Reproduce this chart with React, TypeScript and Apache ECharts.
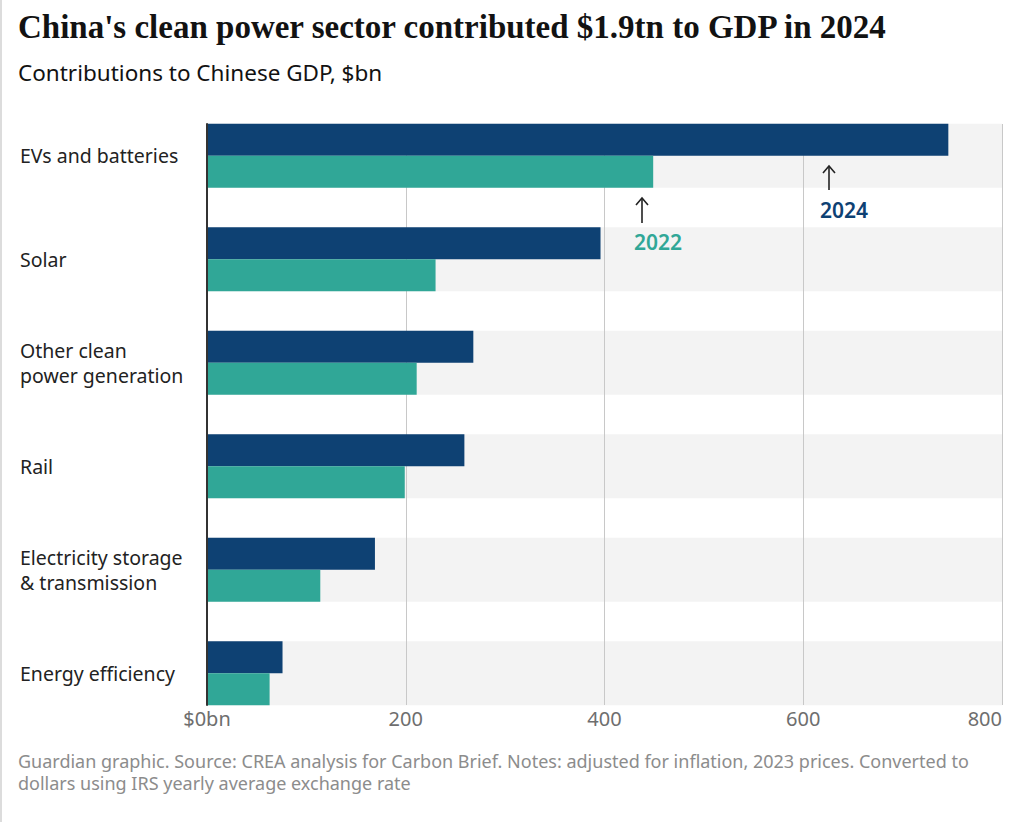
import React, { useEffect, useRef } from "react";
import * as echarts from "echarts";

const categories = [
  "EVs and batteries",
  "Solar",
  "Other clean\npower generation",
  "Rail",
  "Electricity storage\n& transmission",
  "Energy efficiency",
];
const values2024 = [746, 396, 268, 259, 169, 76];
const values2022 = [449, 230, 211, 199, 114, 63];
const xTicks = [0, 200, 400, 600, 800];
const xMax = 800;

const NAVY = "#0e4173";
const TEAL = "#30a797";
const SANS = "'Noto Sans', 'Open Sans', sans-serif";
const SERIF = "'Liberation Serif', 'DejaVu Serif', serif";

export default function App() {
  const ref = useRef<HTMLDivElement>(null);
  useEffect(() => {
    if (!ref.current) return;
    const chart = echarts.init(ref.current, undefined, { renderer: "svg" });
    const option: any = {
      animation: false,
      backgroundColor: "#ffffff",
      grid: [
        { left: 207, right: 22, top: 124, bottom: 117 },
        { left: 207, right: 22, top: 104, bottom: 97 },
      ],
      xAxis: [
        {
          gridIndex: 0,
          type: "value",
          min: 0,
          max: xMax,
          interval: xTicks[1] - xTicks[0],
          z: 1,
          axisLine: { show: false },
          axisTick: { show: false },
          splitLine: { show: true, lineStyle: { color: "#c8c8c8", width: 1 } },
          axisLabel: {
            color: "#6e6e6e",
            fontSize: 20,
            fontFamily: SANS,
            margin: 3,
            alignMaxLabel: "right",
            formatter: (v: number) => (v === 0 ? "$0bn" : String(v)),
          },
        },
        {
          gridIndex: 1,
          type: "value",
          min: 0,
          max: xMax,
          show: false,
        },
      ],
      yAxis: [
        {
          gridIndex: 0,
          type: "value",
          min: 0,
          max: 1,
          z: 3,
          axisLine: { show: true, lineStyle: { color: "#333333", width: 2 } },
          axisTick: { show: false },
          axisLabel: { show: false },
          splitLine: { show: false },
        },
        {
          gridIndex: 1,
          type: "category",
          data: categories,
          inverse: true,
          axisLine: { show: false },
          axisTick: { show: false },
          splitLine: { show: false },
          axisLabel: {
            align: "left",
            margin: 187,
            color: "#222222",
            fontSize: 19.5,
            lineHeight: 25,
            fontFamily: SANS,
          },
        },
        {
          gridIndex: 1,
          type: "category",
          data: categories,
          inverse: true,
          position: "right",
          show: false,
        },
      ],
      series: [
        {
          type: "bar",
          name: "band",
          xAxisIndex: 1,
          yAxisIndex: 2,
          data: categories.map(() => xMax),
          barWidth: 64,
          itemStyle: { color: "#f3f3f3" },
          z: 0,
          silent: true,
        },
        {
          type: "bar",
          name: "2024",
          xAxisIndex: 1,
          yAxisIndex: 1,
          data: values2024,
          barWidth: 32,
          barGap: "0%",
          itemStyle: { color: NAVY },
          z: 2,
        },
        {
          type: "bar",
          name: "2022",
          xAxisIndex: 1,
          yAxisIndex: 1,
          data: values2022,
          barWidth: 32,
          barGap: "0%",
          itemStyle: { color: TEAL },
          z: 2,
        },
      ],
      graphic: [
        {
          type: "rect",
          shape: { x: 0, y: 0, width: 2, height: 822 },
          style: { fill: "#dcdcdc" },
        },
        {
          type: "text",
          x: 18,
          y: 27,
          style: {
            text: "China's clean power sector contributed $1.9tn to GDP in 2024",
            font: `bold 33px ${SERIF}`,
            fill: "#121212",
            verticalAlign: "middle",
          },
        },
        {
          type: "text",
          x: 18,
          y: 72,
          style: {
            text: "Contributions to Chinese GDP, $bn",
            font: `22.5px ${SANS}`,
            fill: "#121212",
            verticalAlign: "middle",
          },
        },
        {
          type: "text",
          x: 18,
          y: 772,
          style: {
            text:
              "Guardian graphic. Source: CREA analysis for Carbon Brief. Notes: adjusted for inflation, 2023 prices. Converted to\ndollars using IRS yearly average exchange rate",
            font: `18px ${SANS}`,
            lineHeight: 22,
            fill: "#8c8c8c",
            verticalAlign: "middle",
          },
        },
        // 2024 annotation
        {
          type: "line",
          shape: { x1: 829, y1: 190, x2: 829, y2: 166 },
          style: { stroke: "#222", lineWidth: 1.6 },
          z: 10,
        },
        {
          type: "polyline",
          shape: { points: [[823, 173], [829, 166], [835, 173]] },
          style: { stroke: "#222", lineWidth: 1.6, fill: null },
          z: 10,
        },
        {
          type: "text",
          x: 820,
          y: 210,
          style: {
            text: "2024",
            font: `600 21px ${SANS}`,
            fill: NAVY,
            verticalAlign: "middle",
          },
          z: 10,
        },
        // 2022 annotation
        {
          type: "line",
          shape: { x1: 642, y1: 223, x2: 642, y2: 198 },
          style: { stroke: "#222", lineWidth: 1.6 },
          z: 10,
        },
        {
          type: "polyline",
          shape: { points: [[636, 205], [642, 198], [648, 205]] },
          style: { stroke: "#222", lineWidth: 1.6, fill: null },
          z: 10,
        },
        {
          type: "text",
          x: 634,
          y: 242,
          style: {
            text: "2022",
            font: `600 21px ${SANS}`,
            fill: TEAL,
            verticalAlign: "middle",
          },
          z: 10,
        },
      ],
    };
    chart.setOption(option);
    return () => chart.dispose();
  }, []);
  return (
    <div
      ref={ref}
      style={{ position: "fixed", left: 0, top: 0, width: 1024, height: 822 }}
    />
  );
}
